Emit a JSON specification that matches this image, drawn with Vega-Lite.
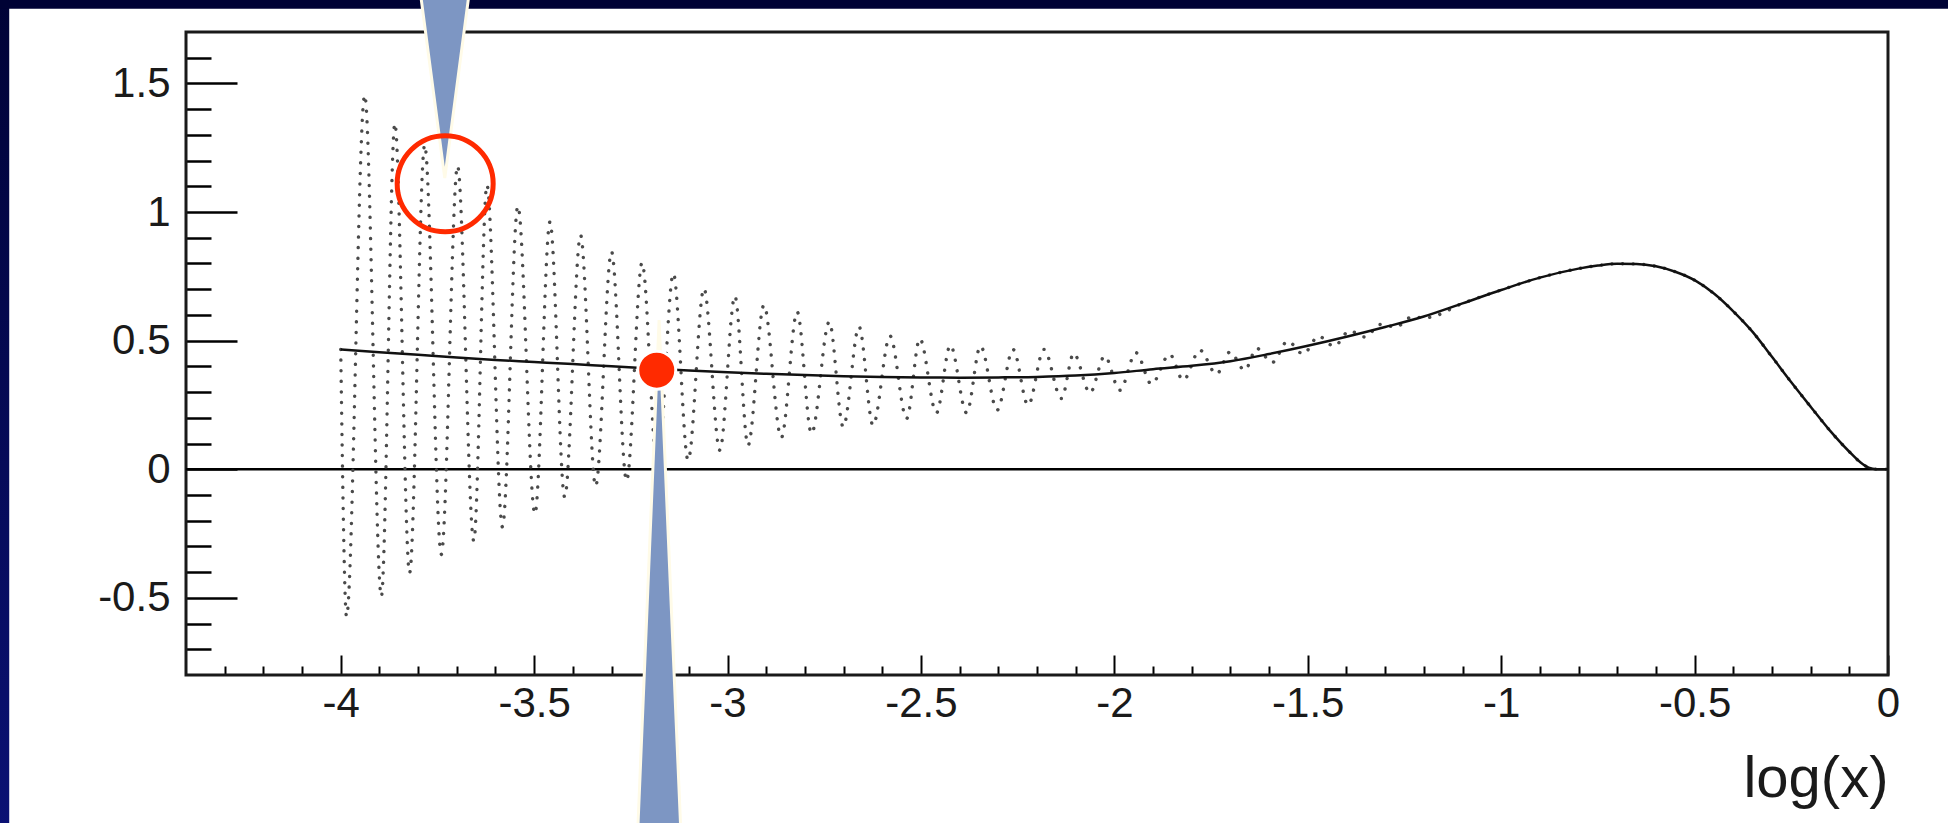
{
  "$schema": "https://vega.github.io/schema/vega-lite/v6.json",
  "width": 1702,
  "height": 643,
  "autosize": "none",
  "padding": {"left": 186, "top": 32, "right": 60, "bottom": 148},
  "background": "#ffffff",
  "config": {"view": {"stroke": null}},
  "datasets": {
    "dotted": [{"x":-4.0,"y":0.466},{"x":-3.985,"y":-0.572},{"x":-3.938,"y":1.455},{"x":-3.895,"y":-0.494},{"x":-3.86,"y":1.345},{"x":-3.822,"y":-0.403},{"x":-3.783,"y":1.261},{"x":-3.74,"y":-0.331},{"x":-3.698,"y":1.179},{"x":-3.656,"y":-0.279},{"x":-3.622,"y":1.105},{"x":-3.582,"y":-0.224},{"x":-3.542,"y":1.023},{"x":-3.498,"y":-0.173},{"x":-3.459,"y":0.962},{"x":-3.421,"y":-0.108},{"x":-3.38,"y":0.91},{"x":-3.341,"y":-0.066},{"x":-3.3,"y":0.846},{"x":-3.261,"y":-0.045},{"x":-3.221,"y":0.803},{"x":-3.181,"y":-0.005},{"x":-3.14,"y":0.761},{"x":-3.102,"y":0.035},{"x":-3.061,"y":0.703},{"x":-3.02,"y":0.074},{"x":-2.981,"y":0.673},{"x":-2.947,"y":0.093},{"x":-2.906,"y":0.638},{"x":-2.861,"y":0.123},{"x":-2.82,"y":0.612},{"x":-2.783,"y":0.139},{"x":-2.737,"y":0.573},{"x":-2.701,"y":0.165},{"x":-2.66,"y":0.554},{"x":-2.624,"y":0.171},{"x":-2.58,"y":0.518},{"x":-2.537,"y":0.197},{"x":-2.503,"y":0.508},{"x":-2.46,"y":0.219},{"x":-2.424,"y":0.482},{"x":-2.382,"y":0.219},{"x":-2.346,"y":0.479},{"x":-2.303,"y":0.23},{"x":-2.262,"y":0.466},{"x":-2.223,"y":0.249},{"x":-2.182,"y":0.466},{"x":-2.137,"y":0.275},{"x":-2.105,"y":0.45},{"x":-2.063,"y":0.297},{"x":-2.025,"y":0.44},{"x":-1.986,"y":0.307},{"x":-1.944,"y":0.453},{"x":-1.904,"y":0.331},{"x":-1.857,"y":0.447},{"x":-1.822,"y":0.346},{"x":-1.779,"y":0.463},{"x":-1.736,"y":0.37},{"x":-1.701,"y":0.456},{"x":-1.663,"y":0.385},{"x":-1.632,"y":0.47},{"x":-1.592,"y":0.415},{"x":-1.552,"y":0.498},{"x":-1.512,"y":0.448},{"x":-1.472,"y":0.517},{"x":-1.432,"y":0.478},{"x":-1.392,"y":0.538},{"x":-1.352,"y":0.514},{"x":-1.312,"y":0.563},{"x":-1.272,"y":0.553},{"x":-1.232,"y":0.591},{"x":-1.192,"y":0.59},{"x":-1.1,"y":0.645},{"x":-1.0,"y":0.697},{"x":-0.9,"y":0.745},{"x":-0.8,"y":0.78},{"x":-0.75,"y":0.792},{"x":-0.7,"y":0.799},{"x":-0.65,"y":0.798},{"x":-0.6,"y":0.789},{"x":-0.55,"y":0.768},{"x":-0.5,"y":0.735},{"x":-0.45,"y":0.683},{"x":-0.4,"y":0.614},{"x":-0.35,"y":0.534},{"x":-0.3,"y":0.437},{"x":-0.25,"y":0.338},{"x":-0.2,"y":0.243},{"x":-0.15,"y":0.15},{"x":-0.1,"y":0.068},{"x":-0.07,"y":0.025},{"x":-0.05,"y":0.006},{"x":-0.03,"y":0.0},{"x":0.0,"y":0.0}],
    "smooth": [{"x":-4.0,"y":0.466},{"x":-3.9,"y":0.455},{"x":-3.8,"y":0.445},{"x":-3.7,"y":0.434},{"x":-3.6,"y":0.425},{"x":-3.5,"y":0.417},{"x":-3.4,"y":0.409},{"x":-3.3,"y":0.4},{"x":-3.2,"y":0.392},{"x":-3.1,"y":0.384},{"x":-3.0,"y":0.377},{"x":-2.9,"y":0.371},{"x":-2.8,"y":0.366},{"x":-2.7,"y":0.362},{"x":-2.6,"y":0.359},{"x":-2.5,"y":0.357},{"x":-2.4,"y":0.356},{"x":-2.3,"y":0.357},{"x":-2.2,"y":0.359},{"x":-2.1,"y":0.364},{"x":-2.0,"y":0.374},{"x":-1.9,"y":0.389},{"x":-1.8,"y":0.402},{"x":-1.7,"y":0.42},{"x":-1.6,"y":0.448},{"x":-1.5,"y":0.48},{"x":-1.4,"y":0.515},{"x":-1.3,"y":0.553},{"x":-1.2,"y":0.594},{"x":-1.1,"y":0.645},{"x":-1.0,"y":0.697},{"x":-0.9,"y":0.745},{"x":-0.8,"y":0.78},{"x":-0.75,"y":0.792},{"x":-0.7,"y":0.799},{"x":-0.65,"y":0.798},{"x":-0.6,"y":0.789},{"x":-0.55,"y":0.768},{"x":-0.5,"y":0.735},{"x":-0.45,"y":0.683},{"x":-0.4,"y":0.614},{"x":-0.35,"y":0.534},{"x":-0.3,"y":0.437},{"x":-0.25,"y":0.338},{"x":-0.2,"y":0.243},{"x":-0.15,"y":0.15},{"x":-0.1,"y":0.068},{"x":-0.07,"y":0.025},{"x":-0.05,"y":0.006},{"x":-0.03,"y":0.0},{"x":0.0,"y":0.0}],
    "pointers": [
      {"pointer":"top","y":1.84,"x":-3.793,"x2":-3.669},
      {"pointer":"top","y":1.132,"x":-3.731,"x2":-3.731},
      {"pointer":"bottom","y":0.58,"x":-3.177,"x2":-3.177},
      {"pointer":"bottom","y":-1.4,"x":-3.232,"x2":-3.121}
    ]
  },
  "layer": [
    {
      "data": {"values": [{}]},
      "mark": {"type": "rect", "color": {"gradient": "linear", "x1": 0, "y1": 0, "x2": 0, "y2": 1, "stops": [{"offset": 0, "color": "#000235"}, {"offset": 1, "color": "#0b1276"}]}},
      "encoding": {
        "x": {"datum": -4.95, "type": "quantitative", "scale": {"domain": [-4.4, 0], "nice": false, "zero": false}},
        "x2": {"datum": -4.857},
        "y": {"datum": 1.9, "type": "quantitative", "scale": {"domain": [-0.8, 1.7], "nice": false, "zero": false}},
        "y2": {"datum": -1.5}
      }
    },
    {
      "data": {"values": [{}]},
      "mark": {"type": "rect", "color": "#000235"},
      "encoding": {
        "x": {"datum": -4.95, "type": "quantitative"},
        "x2": {"datum": 0.3},
        "y": {"datum": 1.9, "type": "quantitative"},
        "y2": {"datum": 1.79}
      }
    },
    {
      "data": {"values": [{}]},
      "mark": {"type": "rect", "filled": false, "stroke": "#1a1a1a", "strokeWidth": 3},
      "encoding": {
        "x": {"datum": -4.4, "type": "quantitative"},
        "x2": {"datum": 0},
        "y": {"datum": -0.8, "type": "quantitative"},
        "y2": {"datum": 1.7}
      }
    },
    {
      "data": {"values": [{}]},
      "mark": {"type": "rule", "color": "#000000", "strokeWidth": 2.5},
      "encoding": {
        "x": {"datum": -4.4, "type": "quantitative"},
        "x2": {"datum": 0},
        "y": {"datum": 0, "type": "quantitative"}
      }
    },
    {
      "data": {"name": "dotted"},
      "mark": {"type": "line", "interpolate": "monotone", "color": "#4a4a4a", "strokeWidth": 3.4, "strokeDash": [0.1, 10.5], "strokeCap": "round"},
      "encoding": {
        "x": {
          "field": "x", "type": "quantitative",
          "scale": {"domain": [-4.4, 0], "nice": false, "zero": false},
          "axis": {
            "values": [-4.3,-4.2,-4.1,-4.0,-3.9,-3.8,-3.7,-3.6,-3.5,-3.4,-3.3,-3.2,-3.1,-3.0,-2.9,-2.8,-2.7,-2.6,-2.5,-2.4,-2.3,-2.2,-2.1,-2.0,-1.9,-1.8,-1.7,-1.6,-1.5,-1.4,-1.3,-1.2,-1.1,-1.0,-0.9,-0.8,-0.7,-0.6,-0.5,-0.4,-0.3,-0.2,-0.1,0.0],
            "tickCount": 200,
            "domain": false, "grid": false,
            "tickColor": "#000000", "tickWidth": 2,
            "tickSize": {"condition": {"test": "abs(datum.value*2 - round(datum.value*2)) < 0.001", "value": -20}, "value": -9},
            "labelExpr": "abs(datum.value*2 - round(datum.value*2)) < 0.001 ? '' + round(datum.value*2)/2 : ''",
            "labelFont": "Liberation Sans", "labelFontSize": 42, "labelColor": "#1a1a1a",
            "labelBaseline": "top", "labelPadding": 28, "labelFlush": false, "labelOverlap": false,
            "title": "log(x)", "titleFont": "Liberation Sans", "titleFontSize": 58, "titleFontWeight": "normal", "titleColor": "#1a1a1a",
            "titleAnchor": "end", "titleAlign": "right", "titleBaseline": "alphabetic", "titleX": 1702, "titleY": 121
          }
        },
        "y": {
          "field": "y", "type": "quantitative",
          "scale": {"domain": [-0.8, 1.7], "nice": false, "zero": false},
          "axis": {
            "values": [-0.7,-0.6,-0.5,-0.4,-0.3,-0.2,-0.1,0.0,0.1,0.2,0.3,0.4,0.5,0.6,0.7,0.8,0.9,1.0,1.1,1.2,1.3,1.4,1.5,1.6],
            "tickCount": 200,
            "domain": false, "grid": false,
            "tickColor": "#000000", "tickWidth": 2.5,
            "tickSize": {"condition": {"test": "abs(datum.value*2 - round(datum.value*2)) < 0.001", "value": -51}, "value": -25},
            "labelExpr": "abs(datum.value*2 - round(datum.value*2)) < 0.001 ? '' + round(datum.value*2)/2 : ''",
            "labelFont": "Liberation Sans", "labelFontSize": 42, "labelColor": "#1a1a1a",
            "labelAlign": "right", "labelBaseline": "middle", "labelPadding": 67, "labelOverlap": false, "labelFlush": false,
            "title": null
          }
        }
      }
    },
    {
      "data": {"name": "smooth"},
      "mark": {"type": "line", "interpolate": "monotone", "color": "#111111", "strokeWidth": 2.5},
      "encoding": {
        "x": {"field": "x", "type": "quantitative"},
        "y": {"field": "y", "type": "quantitative"}
      }
    },
    {
      "data": {"name": "pointers"},
      "mark": {"type": "area", "orient": "horizontal", "color": "#7d96c3", "stroke": "#fffbe8", "strokeWidth": 3, "opacity": 1},
      "encoding": {
        "y": {"field": "y", "type": "quantitative"},
        "x": {"field": "x", "type": "quantitative"},
        "x2": {"field": "x2"},
        "detail": {"field": "pointer"}
      }
    },
    {
      "data": {"values": [{}]},
      "mark": {"type": "point", "shape": "circle", "filled": true, "size": 1444, "color": "#ff2a00", "stroke": "#ffffff", "strokeWidth": 3, "opacity": 1},
      "encoding": {
        "x": {"datum": -3.183, "type": "quantitative"},
        "y": {"datum": 0.385, "type": "quantitative"}
      }
    },
    {
      "data": {"values": [{}]},
      "mark": {"type": "point", "shape": "circle", "filled": false, "size": 9216, "color": "#ff2a00", "strokeWidth": 5, "opacity": 1},
      "encoding": {
        "x": {"datum": -3.73, "type": "quantitative"},
        "y": {"datum": 1.11, "type": "quantitative"}
      }
    }
  ]
}
